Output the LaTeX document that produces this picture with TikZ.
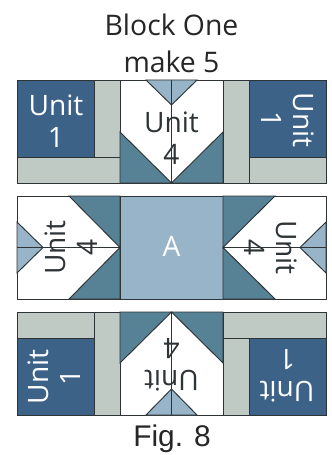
\documentclass[tikz,border=0pt]{standalone}
\usepackage{fontspec}
\setmainfont{Open Sans}
\newfontfamily\figfont{Liberation Sans}
\definecolor{navy}{HTML}{3D6288}
\definecolor{teal2}{HTML}{578195}
\definecolor{pale}{HTML}{98B4C8}
\definecolor{sage}{HTML}{BFCAC4}
\definecolor{edge}{HTML}{2E3436}

\begin{document}
\begin{tikzpicture}[x=0.03cm, y=-0.03cm]
\tikzset{patch/.style={draw=edge, line width=0.8pt, line join=miter},
  lbl/.style={inner sep=0pt, align=center, font=\fontsize{24}{27.5}\selectfont},
  title/.style={inner sep=0pt, font=\fontsize{24.2}{27}\selectfont, text=black!85}}
\useasboundingbox (0, 0) rectangle (331, 455);
\fill[white] (0, 0) rectangle (331, 455);
\node[title] (Title) at (171.5, 25) {Block One};
\node[title] (Make) at (171.5, 62) {make 5};
% top row
\draw[patch, fill=navy] (17, 80) rectangle (94, 157);
\draw[patch, fill=sage] (94, 80) rectangle (120, 157);
\draw[patch, fill=sage] (17, 157) rectangle (120, 183);
\draw[patch, fill=white] (120, 80) rectangle (223, 183);
\draw[patch, fill=pale] (146, 80) -- (197, 80) -- (171.5, 105) -- cycle;
\draw[patch, fill=teal2] (120, 132) -- (171.5, 183) -- (120, 183) -- cycle;
\draw[patch, fill=teal2] (223, 132) -- (171.5, 183) -- (223, 183) -- cycle;
\draw[patch] (171.5, 80) -- (171.5, 183);
\draw[patch, fill=sage] (223, 80) rectangle (249, 183);
\draw[patch, fill=navy] (249, 80) rectangle (326, 157);
\draw[patch, fill=sage] (249, 157) rectangle (326, 183);
% middle row
\draw[patch, fill=white] (17, 196) rectangle (120, 299);
\draw[patch, fill=teal2] (69, 196) -- (120, 196) -- (120, 247.5) -- cycle;
\draw[patch, fill=teal2] (69, 299) -- (120, 299) -- (120, 247.5) -- cycle;
\draw[patch, fill=pale] (17, 222) -- (43, 247.5) -- (17, 273) -- cycle;
\draw[patch] (17, 247.5) -- (120, 247.5);
\draw[patch, fill=pale] (120, 196) rectangle (223, 299);
\draw[patch, fill=white] (223, 196) rectangle (326, 299);
\draw[patch, fill=teal2] (275, 196) -- (223, 196) -- (223, 247.5) -- cycle;
\draw[patch, fill=teal2] (275, 299) -- (223, 299) -- (223, 247.5) -- cycle;
\draw[patch, fill=pale] (326, 222) -- (300, 247.5) -- (326, 273) -- cycle;
\draw[patch] (223, 247.5) -- (326, 247.5);
% bottom row
\draw[patch, fill=sage] (17, 312) rectangle (94, 338);
\draw[patch, fill=navy] (17, 338) rectangle (94, 415);
\draw[patch, fill=sage] (94, 312) rectangle (120, 415);
\draw[patch, fill=white] (120, 312) rectangle (223, 415);
\draw[patch, fill=pale] (146, 415) -- (197, 415) -- (171.5, 389) -- cycle;
\draw[patch, fill=teal2] (120, 363) -- (171.5, 312) -- (120, 312) -- cycle;
\draw[patch, fill=teal2] (223, 363) -- (171.5, 312) -- (223, 312) -- cycle;
\draw[patch] (171.5, 312) -- (171.5, 415);
\draw[patch, fill=sage] (223, 312) rectangle (326, 338);
\draw[patch, fill=sage] (223, 338) rectangle (249, 415);
\draw[patch, fill=navy] (249, 338) rectangle (326, 415);
% labels
\node[lbl, text=white] (U1) at (56, 121) {Unit\\1};
\node[lbl, text=white, rotate=-90] (U2) at (288, 120) {Unit\\1};
\node[lbl, text=edge] (U3) at (171.5, 138) {Unit\\4};
\node[lbl, text=edge, rotate=90] (U4) at (71, 247.5) {Unit\\4};
\node[lbl, text=edge, rotate=-90] (U5) at (271, 247.5) {Unit\\4};
\node[lbl, text=white] (A) at (171.5, 246) {A};
\node[lbl, text=white, rotate=90] (U6) at (54, 377) {Unit\\1};
\node[lbl, text=edge, rotate=180] (U7) at (171.5, 365) {Unit\\4};
\node[lbl, text=white, rotate=180] (U8) at (287, 376) {Unit\\1};
\node[title, font=\figfont\fontsize{25.5}{27}\selectfont] (Fig) at (172, 439) {Fig. 8};
\end{tikzpicture}
\end{document}
